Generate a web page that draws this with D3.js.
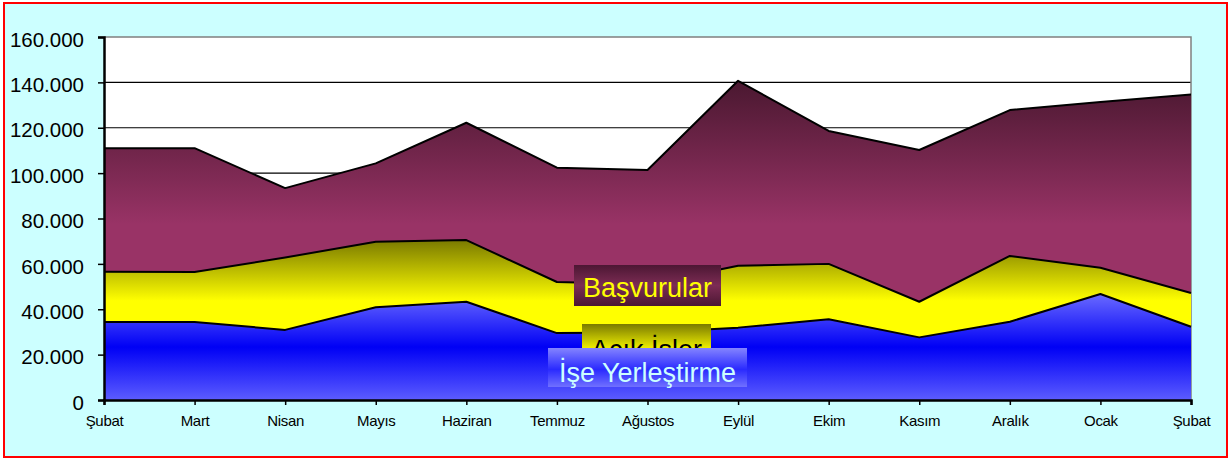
<!DOCTYPE html>
<html>
<head>
<meta charset="utf-8">
<script src="https://d3js.org/d3.v7.min.js"></script>
<style>
  body { margin: 0; background: #ffffff; }
  text { font-family: "Liberation Sans", Arial, sans-serif; }
</style>
</head>
<body>
<svg id="vis"></svg>

<script>
    // months on the x axis (first and last are both Şubat)
    var months = ["Şubat", "Mart", "Nisan", "Mayıs", "Haziran", "Temmuz", "Ağustos",
                  "Eylül", "Ekim", "Kasım", "Aralık", "Ocak", "Şubat"];

    // series values
    var basvurular = [111000, 111000, 93400, 104300, 122200, 102400, 101400,
                      140700, 118600, 110200, 127800, 131300, 134700];
    var acikIsler = [56500, 56400, 62800, 69800, 70500, 52000, 51000,
                     59200, 60000, 43300, 63500, 58300, 47200];
    var iseYerlestirme = [34400, 34400, 30900, 40900, 43300, 29500, 29700,
                          31900, 35600, 27600, 34500, 46700, 32300];

    var yTicks = [0, 20000, 40000, 60000, 80000, 100000, 120000, 140000, 160000];

    var W = 1232, H = 459;
    var plot = {left: 104, right: 1191, top: 37, bottom: 400};

    var svg = d3.select("#vis")
        .attr("width", W)
        .attr("height", H);

    // gradients
    var defs = svg.append("defs");
    function grad(id, stops) {
        var g = defs.append("linearGradient")
            .attr("id", id)
            .attr("x1", 0).attr("y1", 0).attr("x2", 0).attr("y2", 1);
        stops.forEach(function(s) {
            g.append("stop").attr("offset", s[0]).attr("stop-color", s[1]);
        });
    }
    grad("gPurple", [[0, "#4a1830"], [0.45, "#993366"], [1, "#993366"]]);
    grad("gYellow", [[0, "#7a7a00"], [0.38, "#ffff00"], [1, "#ffff00"]]);
    grad("gBlue", [[0, "#6a6aff"], [0.5, "#0000f5"], [1, "#5c5cff"]]);
    grad("lPurple", [[0, "#4c1733"], [0.5, "#7c2c54"], [1, "#4c1733"]]);
    grad("lYellow", [[0, "#7a7a00"], [0.6, "#ffff00"], [1, "#ffff00"]]);
    grad("lBlue", [[0, "#8484ff"], [0.55, "#2a2aff"], [1, "#7070ff"]]);

    // outer frame
    svg.append("rect")
        .attr("x", 4).attr("y", 3)
        .attr("width", 1223).attr("height", 454)
        .attr("fill", "#ccffff")
        .attr("stroke", "#ff0000")
        .attr("stroke-width", 2);

    // plot background
    svg.append("rect")
        .attr("x", plot.left).attr("y", plot.top)
        .attr("width", plot.right - plot.left)
        .attr("height", plot.bottom - plot.top)
        .attr("fill", "#ffffff");

    var x = d3.scalePoint()
        .domain(d3.range(months.length))
        .range([plot.left, plot.right]);

    var y = d3.scaleLinear()
        .domain([0, 160000])
        .range([plot.bottom, plot.top]);

    var trLocale = d3.formatLocale({decimal: ",", thousands: ".", grouping: [3], currency: ["", " TL"]});
    var fmt = trLocale.format(",d");

    // grid lines
    svg.append("g")
        .selectAll("line")
        .data(yTicks.slice(1, -1))
        .enter()
        .append("line")
            .attr("x1", plot.left).attr("x2", plot.right)
            .attr("y1", function(d) { return y(d); })
            .attr("y2", function(d) { return y(d); })
            .attr("stroke", "#000000")
            .attr("stroke-width", 1.2);

    // top and right border of the plot
    svg.append("path")
        .attr("d", "M" + plot.left + "," + plot.top + "H" + plot.right + "V" + plot.bottom)
        .attr("fill", "none")
        .attr("stroke", "#808080")
        .attr("stroke-width", 1.5);

    // areas, back to front
    var series = [
        {name: "Başvurular", values: basvurular, fill: "url(#gPurple)"},
        {name: "Açık İşler", values: acikIsler, fill: "url(#gYellow)"},
        {name: "İşe Yerleştirme", values: iseYerlestirme, fill: "url(#gBlue)"}
    ];

    var area = d3.area()
        .x(function(d, i) { return x(i); })
        .y0(y(0))
        .y1(function(d) { return y(d); });

    var line = d3.line()
        .x(function(d, i) { return x(i); })
        .y(function(d) { return y(d); });

    series.forEach(function(s) {
        svg.append("path")
            .datum(s.values)
            .attr("d", area)
            .attr("fill", s.fill);
        svg.append("path")
            .datum(s.values)
            .attr("d", line)
            .attr("fill", "none")
            .attr("stroke", "#000000")
            .attr("stroke-width", 2)
            .attr("stroke-linejoin", "round");
    });

    // y axis
    var yAxis = svg.append("g")
        .attr("transform", "translate(" + plot.left + ",0)")
        .call(d3.axisLeft(y).tickValues(yTicks).tickFormat(fmt).tickSize(6).tickPadding(14));
    yAxis.select(".domain").attr("stroke", "#000").attr("stroke-width", 2.5);
    yAxis.selectAll(".tick line").attr("stroke", "#000").attr("stroke-width", 1.5);
    yAxis.selectAll(".tick text")
        .attr("font-family", "Liberation Sans, Arial, sans-serif")
        .attr("font-size", "20.5px")
        .attr("fill", "#000")
        .attr("dy", "0.45em");

    // x axis
    var xAxis = svg.append("g")
        .attr("transform", "translate(0," + plot.bottom + ")")
        .call(d3.axisBottom(x).tickFormat(function(i) { return months[i]; }).tickSize(5).tickPadding(10));
    xAxis.select(".domain").attr("stroke", "#000").attr("stroke-width", 2.5);
    xAxis.selectAll(".tick line").attr("stroke", "#000").attr("stroke-width", 1.5);
    xAxis.selectAll(".tick text")
        .attr("font-family", "Liberation Sans, Arial, sans-serif")
        .attr("font-size", "15px")
        .attr("fill", "#000")
        .attr("letter-spacing", "-0.3px");

    // series labels inside the chart (they overlap in the original too)
    var labels = [
        {text: "Başvurular", x: 574, y: 265, w: 147, h: 41, fill: "url(#lPurple)", color: "#ffff00", base: 297},
        {text: "Açık İşler", x: 582, y: 324, w: 129, h: 46, fill: "url(#lYellow)", color: "#000000", base: 359},
        {text: "İşe Yerleştirme", x: 548, y: 348, w: 199, h: 39, fill: "url(#lBlue)", color: "#ccffff", base: 382}
    ];

    labels.forEach(function(l) {
        svg.append("rect")
            .attr("x", l.x).attr("y", l.y)
            .attr("width", l.w).attr("height", l.h)
            .attr("fill", l.fill);
        svg.append("text")
            .attr("x", l.x + l.w / 2)
            .attr("y", l.base)
            .attr("text-anchor", "middle")
            .attr("font-size", "27px")
            .attr("fill", l.color)
            .text(l.text);
    });
</script>
</body>
</html>
